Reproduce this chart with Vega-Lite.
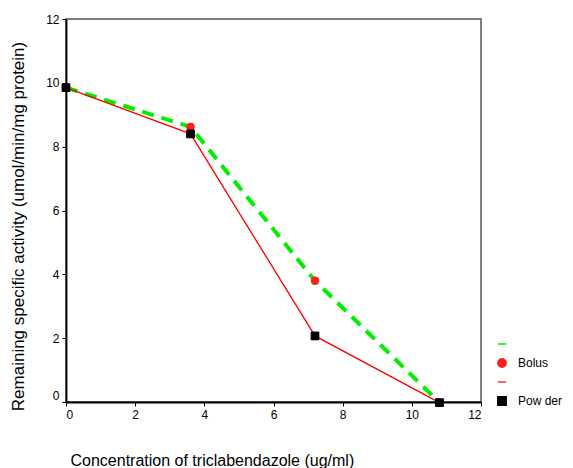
{
  "$schema": "https://vega.github.io/schema/vega-lite/v6.json",
  "width": 415,
  "height": 383,
  "autosize": "none",
  "padding": {"left": 66, "top": 19, "right": 92, "bottom": 66},
  "background": "white",
  "config": {
    "font": "Liberation Sans",
    "view": {"stroke": "#555555", "strokeWidth": 1.5},
    "axis": {"grid": false, "domainColor": "#000000", "domainWidth": 1.8, "tickColor": "#000000", "tickSize": 4, "tickWidth": 1, "labelFont": "Liberation Sans", "labelFontSize": 12, "labelColor": "#000000", "labelPadding": 3, "titleFont": "Liberation Sans", "titleFontWeight": "normal", "titleColor": "#000000"},
    "legend": {"title": null, "orient": "none", "legendX": 430, "legendY": 319, "symbolSize": 70, "rowPadding": 5, "labelFontSize": 12, "labelColor": "#000000", "labelOffset": 10}
  },
  "data": {
    "values": [
      {"x": 0, "y": 9.85, "series": "Bolus"},
      {"x": 3.6, "y": 8.62, "series": "Bolus"},
      {"x": 7.2, "y": 3.8, "series": "Bolus"},
      {"x": 10.8, "y": -0.02, "series": "Bolus"},
      {"x": 0, "y": 9.85, "series": "Pow der"},
      {"x": 3.6, "y": 8.4, "series": "Pow der"},
      {"x": 7.2, "y": 2.07, "series": "Pow der"},
      {"x": 10.8, "y": -0.02, "series": "Pow der"}
    ]
  },
  "encoding": {
    "x": {"field": "x", "type": "quantitative", "scale": {"domain": [0, 12], "nice": false, "zero": false},
      "axis": {"values": [0, 2, 4, 6, 8, 10, 12], "title": "Concentration of triclabendazole (ug/ml)", "titleFontSize": 16, "titleAnchor": "start", "titleAlign": "left", "titleX": 4, "titleY": 63, "titleBaseline": "alphabetic"}},
    "y": {"field": "y", "type": "quantitative", "scale": {"domain": [0, 12], "nice": false, "zero": false},
      "axis": {"values": [0, 2, 4, 6, 8, 10, 12], "title": "Remaining specific activity (umol/min/mg protein)", "titleFontSize": 17, "titleAngle": -90, "titleAlign": "center", "titleBaseline": "middle", "titleX": -48, "titleY": 207,
        "labelBaseline": {"condition": {"test": "datum.value == 0", "value": "bottom"}, "value": "middle"}}}
  },
  "layer": [
    {
      "transform": [{"filter": "datum.series == 'Bolus'"}],
      "mark": {"type": "line", "color": "#00ee00", "strokeWidth": 4, "strokeDash": [12, 8]}
    },
    {
      "transform": [{"filter": "datum.series == 'Pow der'"}],
      "mark": {"type": "line", "color": "#ff0000", "strokeWidth": 1.3}
    },
    {
      "mark": {"type": "point", "filled": false, "opacity": 1, "strokeWidth": 1, "size": 60},
      "encoding": {
        "fill": {"field": "series", "type": "nominal", "scale": {"domain": ["Bolus line", "Bolus", "Pow der line", "Pow der"], "range": ["#00ee00", "#ff2020", "#ff3333", "#000000"]},
          "legend": {"labelExpr": "indexof(datum.label, 'line') >= 0 ? '' : datum.label"}},
        "stroke": {"field": "series", "type": "nominal", "scale": {"domain": ["Bolus line", "Bolus", "Pow der line", "Pow der"], "range": ["#00ee00", "#ff2020", "#ff3333", "#000000"]},
          "legend": {"labelExpr": "indexof(datum.label, 'line') >= 0 ? '' : datum.label",
            "encode": {
              "symbols": {
                "strokeWidth": {"condition": [{"test": "datum.value == 'Bolus line'", "value": 4}, {"test": "datum.value == 'Pow der line'", "value": 1.5}], "value": 1},
                "strokeDash": {"condition": {"test": "datum.value == 'Bolus line'", "value": [11, 8]}, "value": [1, 0]},
                "size": {"condition": {"test": "indexof(datum.value, 'line') >= 0", "value": 1000}, "value": 70},
                "opacity": {"value": 1}
              },
              "labels": {
                "dx": {"condition": {"test": "datum.value == 'Pow der'", "value": 8}, "value": 0}
              }
            }}},
        "shape": {"field": "series", "type": "nominal", "scale": {"domain": ["Bolus line", "Bolus", "Pow der line", "Pow der"], "range": ["stroke", "circle", "stroke", "square"]},
          "legend": {"labelExpr": "indexof(datum.label, 'line') >= 0 ? '' : datum.label"}}
      }
    }
  ]
}
